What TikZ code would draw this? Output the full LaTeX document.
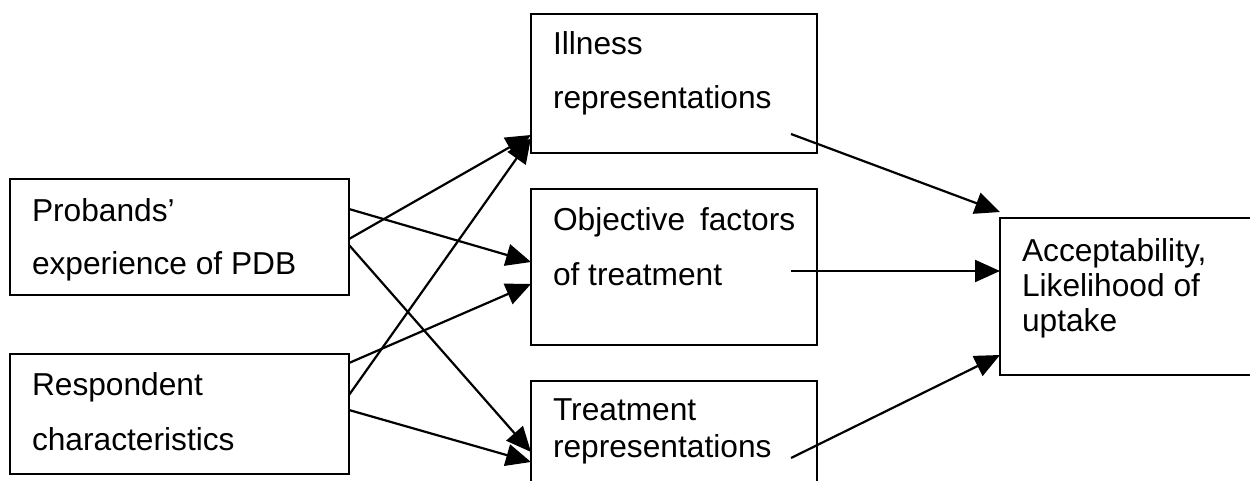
\documentclass[tikz,border=0pt]{standalone}
\usepackage{fontspec}
\setmainfont{Liberation Sans}
\usetikzlibrary{arrows.meta,calc}
\begin{document}
\begin{tikzpicture}[x=1pt,y=-1pt,
  box/.style={draw,line width=2.3pt,rectangle,inner sep=0pt,outer sep=0pt,anchor=north west},
  txt/.style={anchor=base west,inner sep=0pt,outer sep=0pt,font=\fontsize{31.7}{38}\selectfont},
  conn/.style={line width=2.2pt,-{Triangle[length=25pt,width=22pt]}}]
\path[use as bounding box,clip] (0,0) rectangle (1250,481);
% boxes
\node[box,minimum width=339pt,minimum height=116pt] (A) at (10,179) {};
\node[box,minimum width=339pt,minimum height=120pt] (B) at (10,354) {};
\node[box,minimum width=286pt,minimum height=139pt] (C) at (531,14) {};
\node[box,minimum width=286pt,minimum height=156pt] (D) at (531,189) {};
\node[box,minimum width=286pt,minimum height=130pt] (E) at (531,381) {};
\node[box,minimum width=280pt,minimum height=157pt] (F) at (1000,218) {};
% texts
\node[txt] (A1) at (32,222) {Probands’};
\node[txt] (A2) at (32,274) {experience of PDB};
\node[txt] (B1) at (32,395) {Respondent};
\node[txt] (B2) at (32,450) {characteristics};
\node[txt] (C1) at (553,55) {Illness};
\node[txt] (C2) at (553,109) {representations};
\node[txt] (D1) at (553,230) {Objective\hskip0.47em factors};
\node[txt] (D2) at (553,285) {of treatment};
\node[txt] (E1) at (553,420) {Treatment};
\node[txt] (E2) at (553,457) {representations};
\node[txt] (F1) at (1022,261) {Acceptability,};
\node[txt] (F2) at (1022,296) {Likelihood of};
\node[txt] (F3) at (1022,331) {uptake};
% connectors from A
\draw[conn] ($(A.north east)+(0,30)$) -- ($(D.north west)+(0,73)$);
\draw[conn] ($(A.north east)+(0,60)$) -- ($(C.north west)+(0,121)$);
\draw[conn] ($(A.north east)+(0,66)$) -- ($(E.north west)+(0,71)$);
% connectors from B
\draw[conn] ($(B.north east)+(0,9)$) -- ($(D.north west)+(0,95)$);
\draw[conn] ($(B.north east)+(0,41)$) -- ($(C.north west)+(0,124)$);
\draw[conn] ($(B.north east)+(0,56)$) -- ($(E.north west)+(0,81)$);
% connectors to F
\draw[conn] ($(C.north east)+(-26,120)$) -- ($(F.north west)+(0,-6)$);
\draw[conn] ($(D.north east)+(-26,82)$) -- ($(F.north west)+(0,53)$);
\draw[conn] ($(E.north east)+(-26,77)$) -- ($(F.north west)+(0,137)$);
\end{tikzpicture}
\end{document}
